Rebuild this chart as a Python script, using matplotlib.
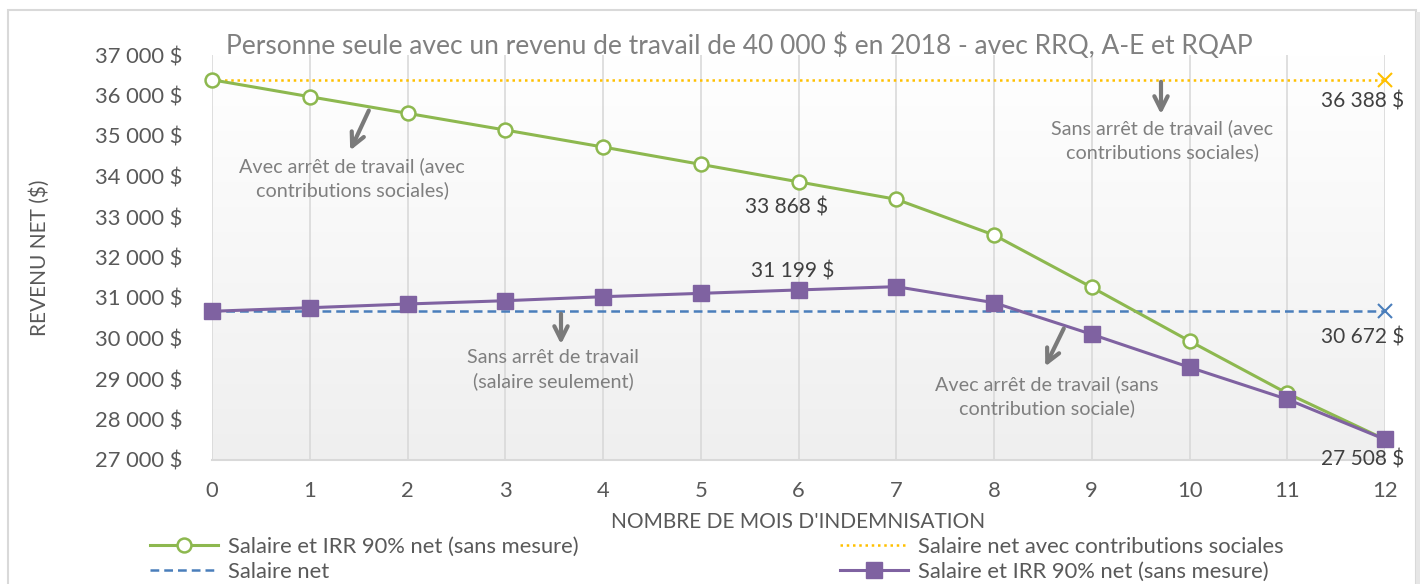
import numpy as np
import matplotlib
matplotlib.use("Agg")
import matplotlib.pyplot as plt
from matplotlib.patches import Rectangle, FancyArrowPatch
from matplotlib.colors import LinearSegmentedColormap

plt.rcParams['font.family'] = ['Lato', 'DejaVu Sans']

months = list(range(13))
avec_arret_contrib = [36388, 35970, 35560, 35148, 34728, 34300, 33868, 33437,
                      32555, 31264, 29938, 28646, 27508]
avec_arret_sans = [30672, 30760, 30852, 30933, 31032, 31115, 31199, 31280,
                   30884, 30103, 29289, 28499, 27508]
salaire_net_contrib = [36388] * 13
salaire_net = [30672] * 13

yticks = list(range(27000, 37001, 1000))
ytick_labels = [f"{v:,}".replace(",", " ") + " $" for v in yticks]

title = "Personne seule avec un revenu de travail de 40 000 $ en 2018 - avec RRQ, A-E et RQAP"
legend_labels = ["Salaire et IRR 90% net (sans mesure)", "Salaire net",
                 "Salaire net avec contributions sociales",
                 "Salaire et IRR 90% net (sans mesure)"]

GREEN = '#8db84f'
PURPLE = '#7f62a1'
BLUE = '#4a7ebb'
YELLOW = '#ffc000'
TXT = '#595959'
ANN = '#7f7f7f'
LBL = '#404040'

W, H = 1423, 584
fig = plt.figure(figsize=(W / 100, H / 100), dpi=100)
fig.patch.set_facecolor('white')
# outer frame
fig.patches.append(Rectangle((8 / W, -0.01), (1408 / W), 1 - 10 / H + 0.01,
                             transform=fig.transFigure, fill=False,
                             edgecolor='#d9d9d9', lw=1.5))
fig.patches.append(Rectangle((1416 / W, -0.01), 4 / W, 1 - 12 / H + 0.01,
                             transform=fig.transFigure, facecolor='#e6e6e6',
                             edgecolor='none'))

ax = fig.add_axes([212 / W, 1 - 460 / H, (1385 - 212) / W, (460 - 55) / H])
ax.set_xlim(0, 12)
ax.set_ylim(27000, 37000)

# gradient background
grad = np.linspace(1.0, 0.0, 256).reshape(-1, 1)
cmap = LinearSegmentedColormap.from_list('g', ['#efefef', '#ffffff'])
ax.imshow(grad, extent=[0, 12, 27000, 37000], aspect='auto', cmap=cmap,
          origin='upper', zorder=0)
ax.set_facecolor('white')

for m in months:
    ax.axvline(m, color='#d9d9d9', lw=1.2, zorder=1)

ax.plot(months, salaire_net_contrib, color=YELLOW, ls=(0, (1, 1.5)), lw=1.8,
        zorder=3, clip_on=False)
ax.plot(months[-1], salaire_net_contrib[-1], marker='x', color=YELLOW, ms=10,
        mew=1.5, zorder=4, clip_on=False)
ax.plot(months, salaire_net, color=BLUE, ls=(0, (3.5, 2)), lw=1.8, zorder=3,
        clip_on=False)
ax.plot(months[-1], salaire_net[-1], marker='x', color=BLUE, ms=10, mew=1.5,
        zorder=4, clip_on=False)
ax.plot(months, avec_arret_contrib, color=GREEN, lw=2.2, marker='o', ms=10,
        mfc='white', mec=GREEN, mew=1.8, zorder=5, clip_on=False)
ax.plot(months, avec_arret_sans, color=PURPLE, lw=2.2, marker='s', ms=11,
        mfc=PURPLE, mec=PURPLE, zorder=6, clip_on=False)

# legend proxies
h_green, = ax.plot([], [], color=GREEN, lw=2.2, marker='o', ms=10, mfc='white',
                   mec=GREEN, mew=1.8)
h_blue, = ax.plot([], [], color=BLUE, ls=(0, (3.5, 2)), lw=1.8)
h_yellow, = ax.plot([], [], color=YELLOW, ls=(0, (1, 1.5)), lw=1.8)
h_purple, = ax.plot([], [], color=PURPLE, lw=2.2, marker='s', ms=11)
leg = fig.legend([h_green, h_blue, h_yellow, h_purple], legend_labels,
                 ncol=2, loc='upper left', bbox_to_anchor=(150 / W, 1 - 537 / H),
                 frameon=False, fontsize=15.8, handlelength=3.1,
                 columnspacing=11.9, labelspacing=0.22, handletextpad=0.45,
                 borderaxespad=0, borderpad=0)
for t in leg.get_texts():
    t.set_color(TXT)

for s in ['top', 'right', 'left']:
    ax.spines[s].set_visible(False)
ax.spines['bottom'].set_color('#d9d9d9')
ax.spines['bottom'].set_linewidth(1.5)
ax.spines['bottom'].set_zorder(2)

ax.set_yticks(yticks)
ax.set_yticklabels(ytick_labels)
ax.set_xticks(months)
ax.tick_params(axis='both', length=0, labelsize=15.8, colors=TXT)
ax.tick_params(axis='y', pad=21)
ax.tick_params(axis='x', pad=15)

ax.set_ylabel("REVENU NET ($)", fontsize=15, color=TXT, labelpad=33)
ax.set_xlabel("NOMBRE DE MOIS D'INDEMNISATION", fontsize=15, color=TXT,
              labelpad=8)

fig.text(739 / W, 1 - 46 / H, title, ha='center', va='center', fontsize=19,
         color='#808080')


def ftext(xp, yp, s, **kw):
    fig.text(xp / W, 1 - yp / H, s, ha='center', va='center', **kw)


ftext(1363, 102, "36 388 $", fontsize=15, color=LBL)
ftext(1363, 338, "30 672 $", fontsize=15, color=LBL)
ftext(1363, 460, "27 508 $", fontsize=15, color=LBL)
ftext(787, 208, "33 868 $", fontsize=15, color=LBL)
ftext(793, 271, "31 199 $", fontsize=15, color=LBL)

ann_kw = dict(fontsize=14.2, color=ANN, linespacing=1.42)
ftext(352, 178, "Avec arrêt de travail (avec\ncontributions sociales)", **ann_kw)
ftext(1162, 140, "Sans arrêt de travail (avec\ncontributions sociales)", **ann_kw)
ftext(553, 370, "Sans arrêt de travail\n(salaire seulement)", **ann_kw)
ftext(1047, 396, "Avec arrêt de travail (sans\ncontribution sociale)", **ann_kw)


def arrow(x0, y0, x1, y1):
    a = FancyArrowPatch((x0 / W, 1 - y0 / H), (x1 / W, 1 - y1 / H),
                        transform=fig.transFigure, arrowstyle='->',
                        mutation_scale=24, lw=3, color='#7a7a7a', zorder=10)
    fig.patches.append(a)


arrow(370, 108, 349, 153)
arrow(1161, 79, 1161, 117)
arrow(561, 311, 561, 347)
arrow(1065, 326, 1044, 369)

fig.savefig("out.png", dpi=100)
